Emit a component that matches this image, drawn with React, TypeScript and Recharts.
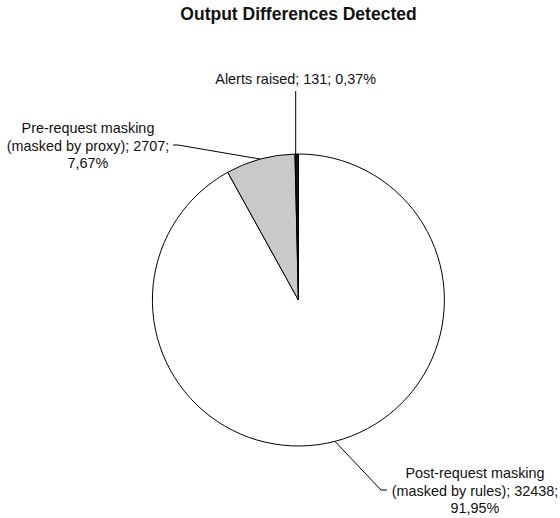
import { PieChart, Pie, Cell } from "recharts";

const CATEGORIES = ["Post-request masking", "Pre-request masking", "Alerts raised"];
const QUALIFIERS = ["(masked by rules)", "(masked by proxy)", ""];
const VALUES = [32438, 2707, 131];
const COLORS = ["#ffffff", "#c9c9cb", "#111111"];

const TOTAL = VALUES.reduce((a, b) => a + b, 0);
const DATA = CATEGORIES.map((name, i) => ({ name, qualifier: QUALIFIERS[i], value: VALUES[i] }));

const FONT = "'Liberation Sans', Arial, Helvetica, sans-serif";
const RAD = Math.PI / 180;

// where each label sits: text centre x, first baseline, and the leader elbow
const LABEL_LAYOUT = [
  { tx: 475, ty: 478, elbow: [381, 490], tail: [387, 490] },
  { tx: 88, ty: 133, elbow: [178, 145], tail: [173, 145] },
  { tx: 0, ty: 84, elbow: null, tail: null },
];

const fmtPct = (v: number) => ((v / TOTAL) * 100).toFixed(2).replace(".", ",") + "%";

const labelLines = (d: { name: string; qualifier: string; value: number }) =>
  d.qualifier
    ? [d.name, `${d.qualifier}; ${d.value};`, fmtPct(d.value)]
    : [`${d.name}; ${d.value}; ${fmtPct(d.value)}`];

const renderLabel = (props: any) => {
  const { cx, cy, midAngle, outerRadius, index } = props;
  const d = DATA[index];
  const lay = LABEL_LAYOUT[index];
  const ex = cx + outerRadius * Math.cos(-midAngle * RAD);
  const ey = cy + outerRadius * Math.sin(-midAngle * RAD);
  const lines = labelLines(d);

  let path: string;
  let tx = lay.tx;
  if (lay.elbow && lay.tail) {
    path = `M${ex},${ey}L${lay.elbow[0]},${lay.elbow[1]}L${lay.tail[0]},${lay.tail[1]}`;
  } else {
    // vertical leader straight up above the slice
    tx = ex - 1;
    path = `M${tx},${ey}L${tx},${lay.ty + 7}`;
  }

  return (
    <g key={`lbl-${index}`}>
      <path d={path} stroke="#000" strokeWidth={1} fill="none" />
      <text x={tx} y={lay.ty} textAnchor="middle" fontFamily={FONT} fontSize={14.4} fill="#111">
        {lines.map((ln, i) => (
          <tspan key={i} x={tx} dy={i === 0 ? 0 : 17.5}>
            {ln}
          </tspan>
        ))}
      </text>
    </g>
  );
};

export default function App() {
  return (
    <div style={{ position: "absolute", left: 0, top: 0, width: 560, height: 518, background: "#fff" }}>
      <div
        style={{
          position: "absolute",
          top: 6,
          left: 0,
          width: 597,
          textAlign: "center",
          fontFamily: FONT,
          fontWeight: "bold",
          fontSize: 17.5,
          lineHeight: 1,
          color: "#111",
        }}
      >
        Output Differences Detected
      </div>
      <PieChart width={560} height={518} margin={{ top: 0, right: 0, bottom: 0, left: 0 }}>
        <Pie
          data={DATA}
          dataKey="value"
          nameKey="name"
          cx={298.4}
          cy={300}
          outerRadius={146}
          startAngle={90}
          endAngle={-270}
          stroke="#000"
          strokeWidth={1}
          label={renderLabel}
          labelLine={false}
          isAnimationActive={false}
        >
          {DATA.map((_, i) => (
            <Cell key={i} fill={COLORS[i]} />
          ))}
        </Pie>
      </PieChart>
    </div>
  );
}
